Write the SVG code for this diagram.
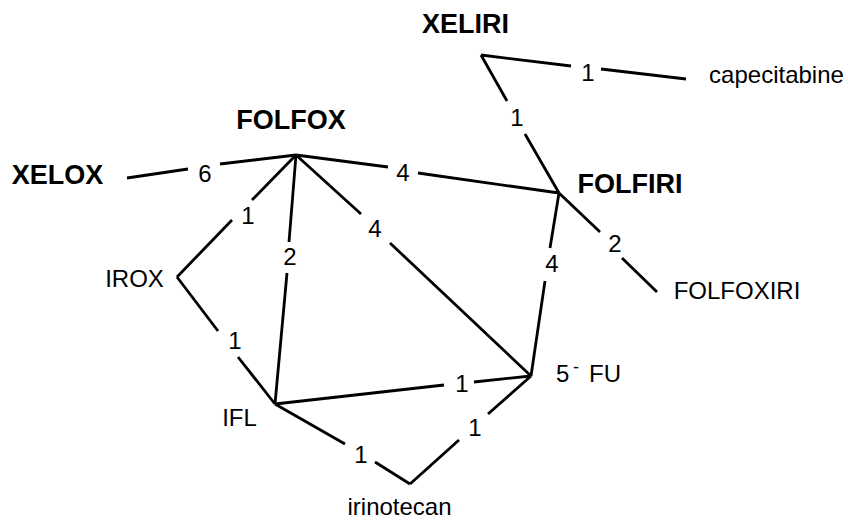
<svg xmlns="http://www.w3.org/2000/svg" width="848" height="521" viewBox="0 0 848 521">
<style>
  .e line { stroke: #000; stroke-width: 2.8; stroke-linecap: butt; }
  .b { font-family: "Liberation Sans", Arial, sans-serif; font-weight: bold; font-size: 27px; fill: #000; text-anchor: middle; }
  .n { font-family: "Liberation Sans", Arial, sans-serif; font-size: 24px; fill: #000; text-anchor: middle; }
  .w { font-family: "Liberation Sans", Arial, sans-serif; font-size: 24px; fill: #000; text-anchor: middle; }
</style>
<rect width="848" height="521" fill="#fff"/>
<g id="connectors" class="e">
  <g id="e-xelox-folfox"><line x1="127" y1="178" x2="188" y2="169"/><line x1="220" y1="164" x2="296" y2="155"/><text class="w" x="205" y="182">6</text></g>
  <g id="e-folfox-folfiri"><line x1="296" y1="155" x2="388" y2="167"/><line x1="418" y1="173" x2="559" y2="193"/><text class="w" x="403" y="181">4</text></g>
  <g id="e-folfox-5fu"><line x1="296" y1="155" x2="361" y2="214"/><line x1="390" y1="243" x2="531" y2="376"/><text class="w" x="375" y="237">4</text></g>
  <g id="e-folfox-ifl"><line x1="296" y1="155" x2="289" y2="242"/><line x1="287" y1="273" x2="275" y2="404"/><text class="w" x="290" y="265">2</text></g>
  <g id="e-folfox-irox"><line x1="296" y1="155" x2="252" y2="200"/><line x1="232" y1="220" x2="177" y2="277"/><text class="w" x="248" y="224">1</text></g>
  <g id="e-irox-ifl"><line x1="177" y1="277" x2="218" y2="331"/><line x1="238" y1="357" x2="275" y2="404"/><text class="w" x="235" y="349">1</text></g>
  <g id="e-ifl-5fu"><line x1="275" y1="404" x2="444" y2="385"/><line x1="474" y1="382" x2="531" y2="376"/><text class="w" x="462" y="392">1</text></g>
  <g id="e-ifl-irinotecan"><line x1="275" y1="404" x2="345" y2="444"/><line x1="375" y1="462" x2="410" y2="484"/><text class="w" x="361" y="463">1</text></g>
  <g id="e-irinotecan-5fu"><line x1="410" y1="484" x2="459" y2="440"/><line x1="488" y1="414" x2="531" y2="376"/><text class="w" x="475" y="436">1</text></g>
  <g id="e-folfiri-5fu"><line x1="559" y1="193" x2="550" y2="248"/><line x1="545" y1="281" x2="531" y2="376"/><text class="w" x="552" y="272">4</text></g>
  <g id="e-folfiri-folfoxiri"><line x1="559" y1="193" x2="600" y2="232"/><line x1="622" y1="258" x2="657" y2="292"/><text class="w" x="615" y="252">2</text></g>
  <g id="e-xeliri-folfiri"><line x1="481" y1="55" x2="507" y2="101"/><line x1="525" y1="134" x2="559" y2="193"/><text class="w" x="517" y="126">1</text></g>
  <g id="e-xeliri-capecitabine"><line x1="481" y1="55" x2="571" y2="66"/><line x1="601" y1="69" x2="686" y2="79"/><text class="w" x="588" y="81">1</text></g>
</g>
<g id="node-xelox"><text class="b" x="57.5" y="184">XELOX</text></g>
<g id="node-folfox"><text class="b" x="291" y="129">FOLFOX</text></g>
<g id="node-xeliri"><text class="b" x="465.5" y="33">XELIRI</text></g>
<g id="node-folfiri"><text class="b" x="630" y="193">FOLFIRI</text></g>
<g id="node-capecitabine"><text class="n" x="776.5" y="83">capecitabine</text></g>
<g id="node-folfoxiri"><text class="n" x="737" y="299">FOLFOXIRI</text></g>
<g id="node-irox"><text class="n" x="134.5" y="287">IROX</text></g>
<g id="node-ifl"><text class="n" x="239.5" y="426">IFL</text></g>
<g id="node-irinotecan"><text class="n" x="399.5" y="515">irinotecan</text></g>
<g id="node-5fu"><text class="n" style="text-anchor:start" x="556" y="382">5<tspan x="573" y="373" font-size="18">-</tspan><tspan x="589" y="382">FU</tspan></text></g>
</svg>
